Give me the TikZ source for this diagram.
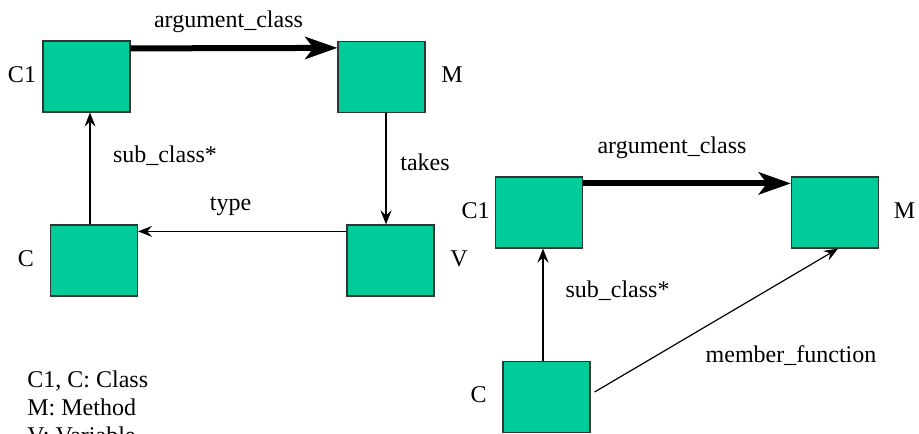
\documentclass[tikz,border=0pt]{standalone}
\usepackage{fontspec}
\setmainfont{Liberation Serif}
\newfontfamily\lblfont{Liberation Serif}
\usetikzlibrary{arrows.meta,calc}

\definecolor{boxgreen}{RGB}{0,204,153}

\tikzset{
	cls/.style={draw=black!80, line width=0.6pt, fill=boxgreen, minimum width=43.5pt, minimum height=35.5pt, inner sep=0pt},
	lbl/.style={anchor=base, inner sep=0pt},
	rel/.style={line width=0.6pt, -{Stealth[length=7pt,width=5.5pt,inset=2.5pt]}},
	relb/.style={rel, line width=1pt},
	argrel/.style={line width=3pt, -{Stealth[length=16pt,width=11pt,inset=4pt]}}
}

\begin{document}
\begin{tikzpicture}[x=0.5pt, y=-0.5pt, font=\lblfont\fontsize{12}{14}\selectfont]
	\useasboundingbox (0,0) rectangle (919,433);

	% left diagram
	\node[cls] (c1a) at (86.5,76.5) {};
	\node[cls] (ma) at (381.5,77) {};
	\node[cls] (ca) at (94,260.5) {};
	\node[cls] (va) at (390.5,260.5) {};

	\draw[argrel] ($(c1a.north east)+(0,8)$) -- ($(ma.north west)+(0,7)$);
	\draw[relb] ($(ma.south)+(4.5,0)$) -- ($(va.north)+(-4.5,0)$);
	\draw[rel] ($(va.north west)+(0,7)$) -- ($(ca.north east)+(0,7)$);
	\draw[rel] ($(ca.north)+(-4,0)$) -- ($(c1a.south)+(3.5,0)$);

	\node[lbl] (argA) at (228.5,28) {argument\_class};
	\node[lbl] (c1aT) at (22,83) {C1};
	\node[lbl] (maT) at (452,83) {M};
	\node[lbl] (subA) at (165,162) {sub\_class*};
	\node[lbl] (takes) at (425,170) {takes};
	\node[lbl] (type) at (230.5,210) {type};
	\node[lbl] (caT) at (26,266) {C};
	\node[lbl] (vaT) at (459,266) {V};

	% legend, last line runs off the bottom edge
	\node[lbl, anchor=base west] (legC) at (27,387) {C1, C: Class};
	\node[lbl, anchor=base west] (legM) at (27,415) {M: Method};
	\node[lbl, anchor=base west] (legV) at (27,443) {V: Variable};

	% right diagram
	\node[cls] (c1b) at (539,212.5) {};
	\node[cls] (mb) at (835,212.5) {};
	\node[cls] (cb) at (546.5,397) {};

	\draw[argrel] ($(c1b.north east)+(0,7)$) -- ($(mb.north west)+(0,7)$);
	\draw[relb] ($(cb.north)+(-3.5,0)$) -- ($(c1b.south)+(4,0)$);
	\draw[rel] ($(cb.east)+(4,-5)$) -- ($(mb.south)+(3,0)$);

	\node[lbl] (argB) at (672,153) {argument\_class};
	\node[lbl] (c1bT) at (475.5,218) {C1};
	\node[lbl] (mbT) at (904.5,218) {M};
	\node[lbl] (subB) at (617.5,297) {sub\_class*};
	\node[lbl] (memfn) at (791,362) {member\_function};
	\node[lbl] (cbT) at (478.5,402) {C};
\end{tikzpicture}
\end{document}
